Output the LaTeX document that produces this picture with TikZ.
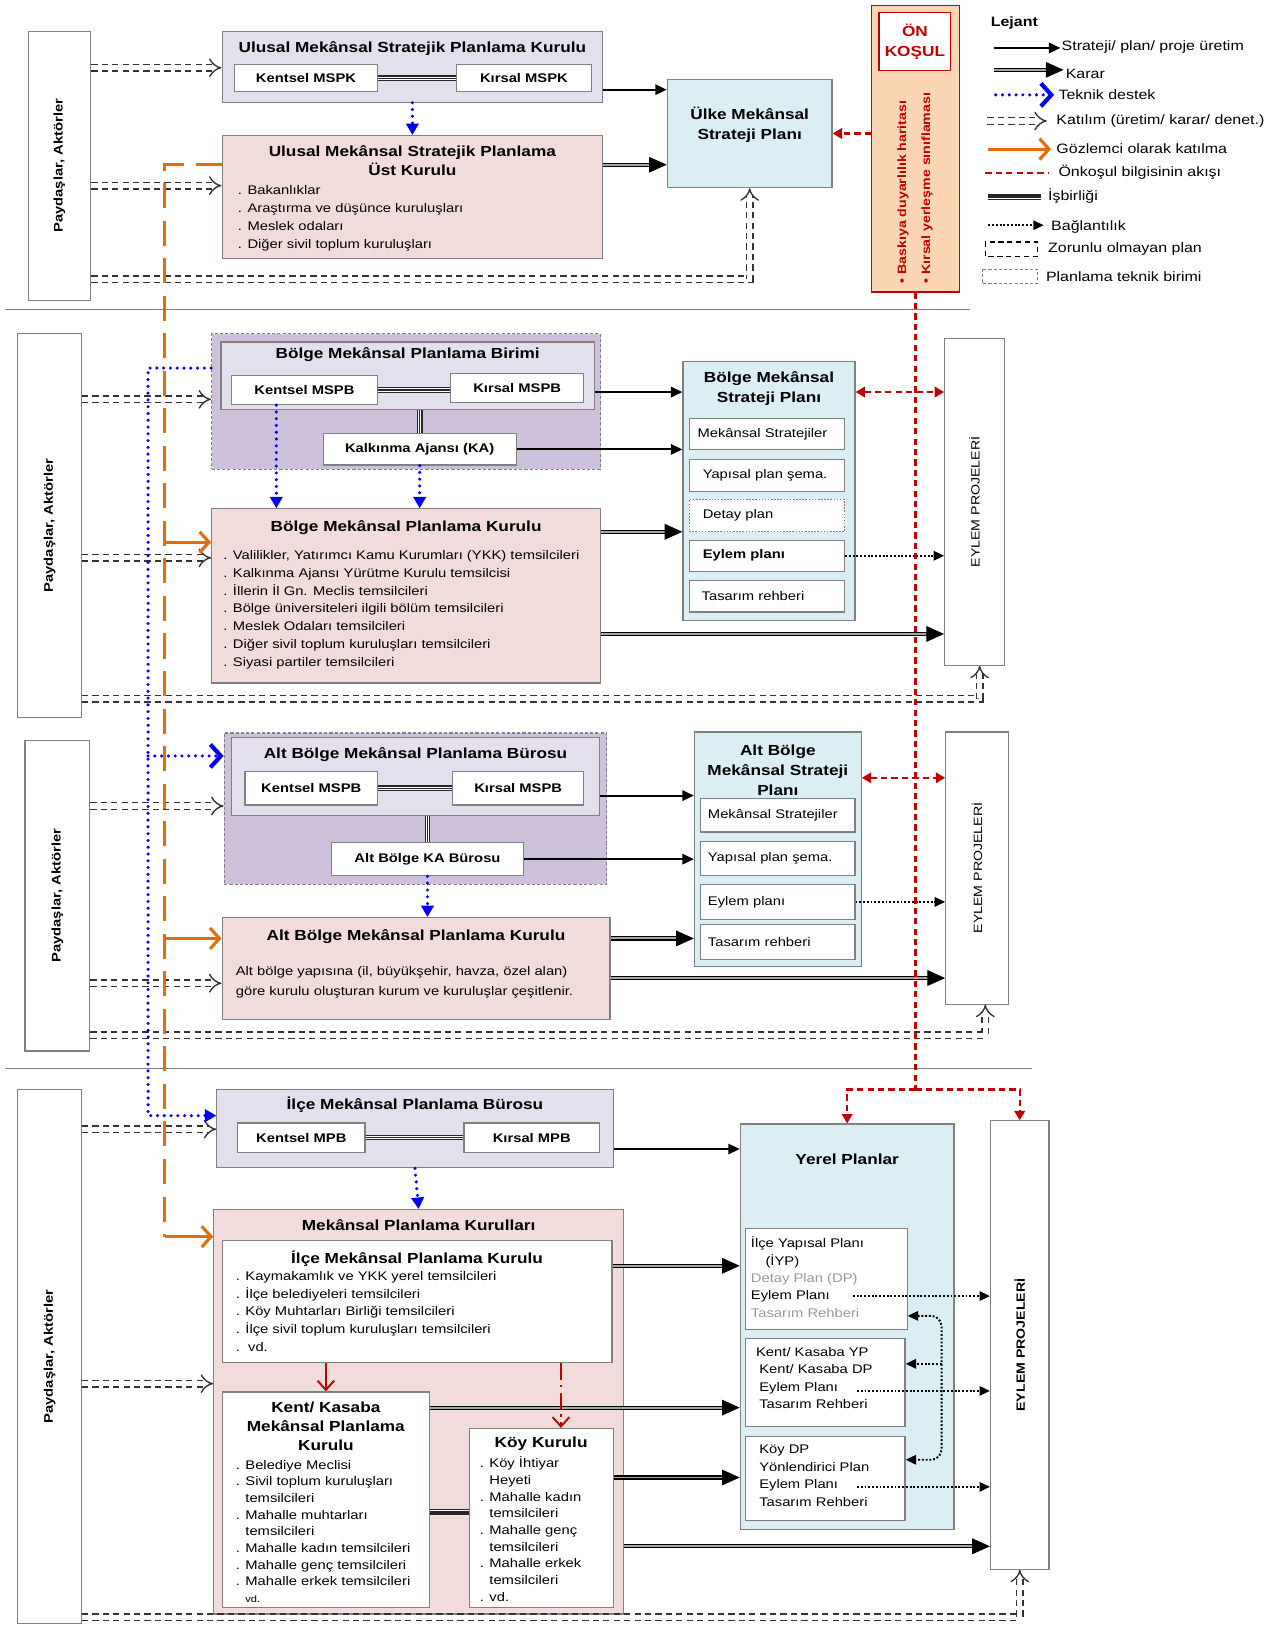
\documentclass[tikz,border=0pt]{standalone}
\usepackage{fontspec}
\setmainfont[FakeStretch=1.18]{Liberation Sans}
\usetikzlibrary{positioning, arrows.meta}

\definecolor{lavlight}{HTML}{E4DFEC}
\definecolor{lavdark}{HTML}{CCC0DA}
\definecolor{pinkfill}{HTML}{F2DCDB}
\definecolor{bluefill}{HTML}{DAEEF3}
\definecolor{peachfill}{HTML}{FCD5B4}
\definecolor{boxgray}{HTML}{808080}
\definecolor{condred}{HTML}{C00000}
\definecolor{obsorange}{HTML}{E46C0A}
\definecolor{techblue}{HTML}{0000F0}

\tikzset{
  sz/.style 2 args={minimum width=#1pt, minimum height=#2pt},
  basebox/.style={draw=boxgray, line width=1.1pt, inner sep=0pt},
  lavbox/.style={basebox, fill=lavlight},
  unitbox/.style={basebox, fill=lavdark, dash pattern=on 3pt off 2pt},
  pinkbox/.style={basebox, fill=pinkfill},
  bluebox/.style={basebox, fill=bluefill},
  whitebox/.style={basebox, fill=white},
  planbox/.style={whitebox, align=left, font=\fontsize{12}{14}\selectfont},
  titletext/.style={font=\fontsize{14}{19}\selectfont\bfseries, align=center, inner sep=0pt},
  labeltext/.style={font=\fontsize{12}{14}\selectfont\bfseries},
  listtext/.style={font=\fontsize{12}{17}\selectfont, align=left, inner sep=0pt, anchor=north west},
  sidetext/.style={font=\fontsize{12}{14}\selectfont\bfseries, rotate=90},
  eylemtext/.style={font=\fontsize{11.5}{14}\selectfont, rotate=90},
  condtext/.style={font=\fontsize{11.5}{13}\selectfont\bfseries, text=condred, rotate=90, anchor=west, inner sep=0pt},
  legtext/.style={font=\fontsize{13}{15}\selectfont, anchor=west, inner sep=0pt},
  produce/.style={draw=black, line width=1.8pt, -{Triangle[length=11pt, width=10pt]}},
  decision/.style={draw=black, double=gray!70, double distance=1.8pt, line width=1.1pt, -{Triangle[length=17pt, width=15pt]}},
  support/.style={draw=techblue, line width=3.3pt, dash pattern=on 0pt off 6.5pt, line cap=round, -{Triangle[length=11pt, width=12pt]}},
  supportbig/.style={support, -{Straight Barb[length=10pt, width=22pt, line width=4pt]}},
  participate/.style={draw=black!80, line width=1.3pt, double, double distance=5pt, dash pattern=on 6pt off 4pt, -{Implies}},
  observer/.style={draw=obsorange, line width=3pt, dash pattern=on 24pt off 12pt},
  observerin/.style={draw=obsorange, line width=3pt, -{Straight Barb[length=9pt, width=20pt]}},
  precond/.style={draw=condred, line width=2.2pt, dash pattern=on 6pt off 4pt},
  redtip/.style={-{Triangle[length=9pt, width=10pt]}},
  redarrow/.style={draw=condred, line width=1.8pt, -{Straight Barb[length=9pt, width=16pt]}},
  coop/.style={draw=black!85, line width=5.6pt, postaction={draw=white, line width=3pt}, postaction={draw=black!85, line width=1.2pt}},
  link/.style={draw=black, line width=1.9pt, dash pattern=on 1.8pt off 1.8pt, -{Triangle[length=10pt, width=9pt]}},
}

\begin{document}
\begin{tikzpicture}[x=1pt, y=-1pt]
\fill[white] (0,0) rectangle (1220,1558.5);
\useasboundingbox (0,0) rectangle (1220,1558.5);

% ulusal duzey
\node[whitebox, sz={60}{258}] (pay1) at (57,159) {};
\node[sidetext] (pay1t) at (pay1.center) {Paydaşlar, Aktörler};
\node[lavbox, sz={365}{68}] (umspk) at (395.5,64) {};
\node[titletext] (umspkt) at (395.5,47) {Ulusal Mekânsal Stratejik Planlama Kurulu};
\node[whitebox, sz={137}{26}, labeltext] (kmspk1) at (293.5,75) {Kentsel MSPK};
\node[whitebox, sz={129}{26}, labeltext] (rmspk1) at (502.5,75) {Kırsal MSPK};
\node[pinkbox, sz={365}{118}] (ust) at (395.5,189) {};
\node[titletext] (ustt) at (395.5,154) {Ulusal Mekânsal Stratejik Planlama\\Üst Kurulu};
\node[listtext] (ustl) at (228,178) {. Bakanlıklar\\. Araştırma ve düşünce kuruluşları\\. Meslek odaları\\. Diğer sivil toplum kuruluşları};
\node[bluebox, sz={158}{104}] (ulke) at (719,128) {};
\node[titletext] (ulket) at (719,120) {Ülke Mekânsal\\Strateji Planı};
\node[basebox, draw=condred, fill=peachfill, sz={84}{275}] (onkosul) at (878,142.5) {};
\node[basebox, draw=condred, fill=white, sz={69}{56}, titletext, text=condred] (onkosult) at (877.5,40) {ÖN\\KOŞUL};
\node[condtext] (ok1) at (866,272) {• Baskıya duyarlılık haritası};
\node[condtext] (ok2) at (889,272) {• Kırsal yerleşme sınıflaması};

% bolge duzeyi
\node[whitebox, sz={61}{368}] (pay2) at (47.5,504) {};
\node[sidetext] (pay2t) at (pay2.center) {Paydaşlar, Aktörler};
\node[unitbox, sz={373}{130}] (unit2) at (389.5,385) {};
\node[lavbox, sz={358}{65}] (bmpb) at (391,360.5) {};
\node[titletext] (bmpbt) at (391,340) {Bölge Mekânsal Planlama Birimi};
\node[whitebox, sz={140}{28}, labeltext] (kmspb2) at (292,374) {Kentsel MSPB};
\node[whitebox, sz={128}{28}, labeltext] (rmspb2) at (496,372) {Kırsal MSPB};
\node[whitebox, sz={185}{30}, labeltext] (ka2) at (402.5,431) {Kalkınma Ajansı (KA)};
\node[pinkbox, sz={373}{167}] (bkurul) at (389.5,571.5) {};
\node[titletext] (bkurult) at (389.5,506) {Bölge Mekânsal Planlama Kurulu};
\node[listtext] (bkurull) at (214,528) {. Valilikler, Yatırımcı Kamu Kurumları (YKK) temsilcileri\\. Kalkınma Ajansı Yürütme Kurulu temsilcisi\\. İllerin İl Gn. Meclis temsilcileri\\. Bölge üniversiteleri ilgili bölüm temsilcileri\\. Meslek Odaları temsilcileri\\. Diğer sivil toplum kuruluşları temsilcileri\\. Siyasi partiler temsilcileri};
\node[bluebox, sz={165}{248}] (bsp) at (737.5,471) {};
\node[titletext] (bspt) at (737.5,373) {Bölge Mekânsal\\Strateji Planı};
\node[planbox, sz={149}{30}, text width=133pt] (bsp1) at (735.5,416) {Mekânsal Stratejiler};
\node[planbox, sz={149}{30}, text width=133pt] (bsp2) at (735.5,456) {\hspace*{5pt}Yapısal plan şema.};
\node[planbox, sz={149}{31}, text width=133pt, dash pattern=on 1.5pt off 1.5pt, line width=0.8pt] (bsp3) at (735.5,494.5) {\hspace*{5pt}Detay plan};
\node[planbox, sz={149}{30}, text width=133pt, font=\fontsize{12}{14}\selectfont\bfseries] (bsp4) at (735.5,533) {\hspace*{5pt}Eylem planı};
\node[planbox, sz={149}{30}, text width=133pt] (bsp5) at (735.5,572) {\hspace*{4pt}Tasarım rehberi};
\node[whitebox, sz={57}{313}] (eylem1) at (934.5,481.5) {};
\node[eylemtext] (eylem1t) at (eylem1.center) {EYLEM PROJELERİ};

% alt bolge duzeyi
\node[whitebox, sz={62}{298}] (pay3) at (55,859) {};
\node[sidetext] (pay3t) at (pay3.center) {Paydaşlar, Aktörler};
\node[unitbox, sz={367}{145}] (unit3) at (398.5,775.5) {};
\node[lavbox, sz={353}{75}] (abmpb) at (398.5,744.5) {};
\node[titletext] (abmpbt) at (398.5,724) {Alt Bölge Mekânsal Planlama Bürosu};
\node[whitebox, sz={127}{32}, labeltext] (kmspb3) at (298.5,756) {Kentsel MSPB};
\node[whitebox, sz={126}{32}, labeltext] (rmspb3) at (497,756) {Kırsal MSPB};
\node[whitebox, sz={184}{32}, labeltext] (ka3) at (410,824) {Alt Bölge KA Bürosu};
\node[pinkbox, sz={372}{98}] (abkurul) at (399,929) {};
\node[titletext] (abkurult) at (399,898) {Alt Bölge Mekânsal Planlama Kurulu};
\node[listtext, font=\fontsize{12}{19}\selectfont] (abkurull) at (226,927) {Alt bölge yapısına (il, büyükşehir, havza, özel alan)\\göre kurulu oluşturan kurum ve kuruluşlar çeşitlenir.};
\node[bluebox, sz={160}{225}] (absp) at (746,814.5) {};
\node[titletext] (abspt) at (746,739) {Alt Bölge\\Mekânsal Strateji\\Planı};
\node[planbox, sz={148}{32}, text width=134pt] (absp1) at (746,782) {Mekânsal Stratejiler};
\node[planbox, sz={148}{33}, text width=134pt] (absp2) at (746,823.5) {Yapısal plan şema.};
\node[planbox, sz={148}{34}, text width=134pt] (absp3) at (746,865) {Eylem planı};
\node[planbox, sz={148}{33}, text width=134pt] (absp4) at (746,903.5) {Tasarım rehberi};
\node[whitebox, sz={60}{261}] (eylem2) at (937,832.5) {};
\node[eylemtext] (eylem2t) at (eylem2.center) {EYLEM PROJELERİ};

% ilce duzeyi
\node[whitebox, sz={61}{512}] (pay4) at (47.5,1301) {};
\node[sidetext] (pay4t) at (pay4.center) {Paydaşlar, Aktörler};
\node[lavbox, sz={380}{75}] (ilceb) at (398,1082.5) {};
\node[titletext] (ilcebt) at (398,1060) {İlçe Mekânsal Planlama Bürosu};
\node[whitebox, sz={122}{28}, labeltext] (kmpb4) at (289,1091) {Kentsel MPB};
\node[whitebox, sz={130}{28}, labeltext] (rmpb4) at (510,1091) {Kırsal MPB};
\node[pinkbox, sz={393}{388}] (mpk) at (401.5,1354) {};
\node[titletext] (mpkt) at (401.5,1175) {Mekânsal Planlama Kurulları};
\node[whitebox, sz={374}{117}] (ilcek) at (400,1248.5) {};
\node[titletext] (ilcekt) at (400,1207) {İlçe Mekânsal Planlama Kurulu};
\node[listtext] (ilcekl) at (226,1219) {. Kaymakamlık ve YKK yerel temsilcileri\\. İlçe belediyeleri temsilcileri\\. Köy Muhtarları Birliği temsilcileri\\. İlçe sivil toplum kuruluşları temsilcileri\\.\ \ vd.};
\node[whitebox, sz={199}{207}] (kentk) at (312.5,1438.5) {};
\node[titletext, font=\fontsize{14}{18.5}\selectfont\bfseries] (kentkt) at (312.5,1368) {Kent/ Kasaba\\Mekânsal Planlama\\Kurulu};
\node[listtext, font=\fontsize{12}{16}\selectfont] (kentkl) at (226,1400) {. Belediye Meclisi\\. Sivil toplum kuruluşları\\\phantom{. }temsilcileri\\. Mahalle muhtarları\\\phantom{. }temsilcileri\\. Mahalle kadın temsilcileri\\. Mahalle genç temsilcileri\\. Mahalle erkek temsilcileri\\\phantom{. }{\fontsize{9}{10}\selectfont vd.}};
\node[whitebox, sz={138}{172}] (koyk) at (519,1456) {};
\node[titletext] (koykt) at (519,1385) {Köy Kurulu};
\node[listtext, font=\fontsize{12}{16}\selectfont] (koykl) at (460,1397) {. Köy İhtiyar\\\phantom{. }Heyeti\\. Mahalle kadın\\\phantom{. }temsilcileri\\. Mahalle genç\\\phantom{. }temsilcileri\\. Mahalle erkek\\\phantom{. }temsilcileri\\. vd.};
\node[bluebox, sz={205}{389}] (yerel) at (812.5,1272.5) {};
\node[titletext] (yerelt) at (812.5,1112) {Yerel Planlar};
\node[whitebox, sz={155}{97}] (yp1) at (792.5,1226.5) {};
\node[listtext, font=\fontsize{12}{16.7}\selectfont] (yp1l) at (720,1186) {İlçe Yapısal Planı\\\hspace*{14pt}(İYP)\\\textcolor{black!40}{Detay Plan (DP)}\\Eylem Planı\\\textcolor{black!40}{Tasarım Rehberi}};
\node[whitebox, sz={153}{84}] (yp2) at (791.5,1326) {};
\node[listtext, font=\fontsize{12}{16.7}\selectfont] (yp2l) at (725,1292) {Kent/ Kasaba YP\\\hspace*{3pt}Kent/ Kasaba DP\\\hspace*{3pt}Eylem Planı\\\hspace*{3pt}Tasarım Rehberi};
\node[whitebox, sz={153}{80}] (yp3) at (791.5,1418) {};
\node[listtext, font=\fontsize{12}{16.7}\selectfont] (yp3l) at (728,1386) {Köy DP\\Yönlendirici Plan\\Eylem Planı\\Tasarım Rehberi};
\node[whitebox, sz={56}{430}] (eylem3) at (978,1290) {};
\node[eylemtext, font=\fontsize{11.5}{14}\selectfont\bfseries] (eylem3t) at (eylem3.center) {EYLEM PROJELERİ};

% ayirici cizgiler
\draw[boxgray, double, double distance=1.5pt, line width=0.8pt] (5,298) -- (930,298);
\draw[boxgray, line width=1.2pt] (5,1025) -- (990,1025);

% katilim
\draw[participate] (pay1.east |- 0,65) -- (umspk.west |- 0,65);
\draw[participate] (pay1.east |- 0,178) -- (ust.west |- 0,178);
\draw[participate] (pay1.east |- 0,268) -| (ulke.south);
\draw[participate] (pay2.east |- 0,383) -- (unit2.west |- 0,383);
\draw[participate] (pay2.east |- 0,535) -- (bkurul.west |- 0,535);
\draw[participate] (pay2.east |- 0,670) -| ([xshift=5pt]eylem1.south);
\draw[participate] (pay3.east |- 0,773) -- (unit3.west |- 0,773);
\draw[participate] (pay3.east |- 0,943) -- (abkurul.west |- 0,943);
\draw[participate] (pay3.east |- 0,993) -| ([xshift=8pt]eylem2.south);
\draw[participate] (pay4.east |- 0,1083) -- (ilceb.west |- 0,1083);
\draw[participate] (pay4.east |- 0,1327) -- (mpk.west |- 0,1327);
\draw[participate] (pay4.east |- 0,1551) -| (eylem3.south);

% isbirligi
\draw[coop] (kmspk1) -- (rmspk1);
\draw[coop] (kmspb2.east) -- (rmspb2.west |- kmspb2.east);
\draw[coop] (ka2.north |- bmpb.south) -- (ka2.north);
\draw[coop] (kmspb3) -- (rmspb3);
\draw[coop] (ka3.north |- abmpb.south) -- (ka3.north);
\draw[coop] (kmpb4) -- (rmpb4);
\draw[coop] (kentk.east |- 0,1450) -- (koyk.west |- 0,1450);

% uretim ve karar
\draw[produce] (umspk.east |- 0,86) -- (ulke.west |- 0,86);
\draw[decision] (ust.east |- 0,158) -- (ulke.west |- 0,158);
\draw[produce] (bmpb.east |- 0,376) -- (bsp.west |- 0,376);
\draw[produce] (ka2.east) -- (bsp.west |- ka2.east);
\draw[decision] (bkurul.east |- 0,510) -- (bsp.west |- 0,510);
\draw[decision] (bkurul.east |- 0,608) -- (eylem1.west |- 0,608);
\draw[produce] (abmpb.east |- 0,763) -- (absp.west |- 0,763);
\draw[produce] (ka3.east) -- (absp.west |- ka3.east);
\draw[decision] (abkurul.east |- 0,900) -- (absp.west |- 0,900);
\draw[decision] (abkurul.east |- 0,938) -- (eylem2.west |- 0,938);
\draw[produce] (ilceb.east |- 0,1102) -- (yerel.west |- 0,1102);
\draw[decision] (ilcek.east |- 0,1214) -- (yerel.west |- 0,1214);
\draw[decision] (kentk.east |- 0,1350) -- (yerel.west |- 0,1350);
\draw[decision] (koyk.east |- 0,1417) -- (yerel.west |- 0,1417);
\draw[decision] (mpk.east |- 0,1483) -- (eylem3.west |- 0,1483);

% baglantilik
\draw[link] (bsp4.east) -- (eylem1.west |- bsp4.east);
\draw[link] (absp3.east) -- (eylem2.west |- absp3.east);
\coordinate (ep1) at (818,1243);
\coordinate (ep2) at (822,1334);
\coordinate (ep3) at (822,1426);
\draw[link] (ep1) -- (eylem3.west |- ep1);
\draw[link] (ep2) -- (eylem3.west |- ep2);
\draw[link] (ep3) -- (eylem3.west |- ep3);
\coordinate (brk) at (903,1308);
\draw[link, {Triangle[length=10pt, width=9pt]}-{Triangle[length=10pt, width=9pt]}, rounded corners=10pt] (yp1.east |- 0,1262) -| (brk) |- (yp3.east |- 0,1400);
\draw[link] (brk) -- (yp2.east |- brk);

% kurullar arasi
\draw[redarrow] (kentk.north |- ilcek.south) -- (kentk.north);
\coordinate (kk) at ([xshift=19pt]koyk.north);
\draw[redarrow, dash pattern=on 16pt off 5pt on 2pt off 5pt] (kk |- ilcek.south) -- (kk);

% teknik destek
\draw[support] (umspk.south) -- (ust.north);
\coordinate (s2a) at ([xshift=-27pt]kmspb2.south);
\draw[support] (s2a) -- (s2a |- bkurul.north);
\draw[support] (ka2.south) -- (ka2.south |- bkurul.north);
\draw[support] (ka3.south) -- (ka3.south |- abkurul.north);
\draw[support] (ilceb.south) -- (mpk.north);
\coordinate (btop) at (142,353);
\coordinate (bmid) at (142,725);
\coordinate (bbot) at (142,1070);
\draw[support] (unit2.west |- btop) -- (btop) -- (bbot) -- (ilceb.west |- bbot);
\draw[supportbig] (bmid) -- (unit3.west |- bmid);

% gozlemci
\coordinate (otop) at (158,158);
\coordinate (o2) at (158,520);
\coordinate (o3) at (158,900);
\coordinate (obot) at (158,1186);
\draw[observer] (ust.west |- otop) -- (otop) -- (obot);
\draw[observerin] (obot) -- (mpk.west |- obot);
\draw[observerin] (o2) -- (bkurul.west |- o2);
\draw[observerin] (o3) -- (abkurul.west |- o3);

% onkosul
\draw[precond, redtip] (onkosul.west |- 0,128) -- (ulke.east |- 0,128);
\coordinate (rj) at (onkosul.south |- 0,1045);
\draw[precond] (onkosul.south) -- (rj);
\draw[precond, redtip] (rj) -| (yerel.north);
\draw[precond, redtip] (rj) -| (eylem3.north);
\draw[precond, {Triangle[length=9pt, width=10pt]}-{Triangle[length=9pt, width=10pt]}] (bsp.east |- 0,376) -- (eylem1.west |- 0,376);
\draw[precond, {Triangle[length=9pt, width=10pt]}-{Triangle[length=9pt, width=10pt]}] (absp.east |- 0,746) -- (eylem2.west |- 0,746);

% lejant
\node[legtext, font=\fontsize{13}{15}\selectfont\bfseries] (lejant) at (950,22) {Lejant};
\coordinate (lg1a) at (953,46); \coordinate (lg1b) at (1017,46);
\draw[produce] (lg1a) -- (lg1b);
\node[legtext] (lg1) at (1018,45) {Strateji/ plan/ proje üretim};
\coordinate (lg2a) at (953,67); \coordinate (lg2b) at (1020,67);
\draw[decision] (lg2a) -- (lg2b);
\node[legtext] (lg2) at (1022,71) {Karar};
\coordinate (lg3a) at (955,91); \coordinate (lg3b) at (1011,91);
\draw[supportbig] (lg3a) -- (lg3b);
\node[legtext] (lg3) at (1015,91) {Teknik destek};
\coordinate (lg4a) at (947,116); \coordinate (lg4b) at (1004,116);
\draw[participate] (lg4a) -- (lg4b);
\node[legtext] (lg4) at (1013,116) {Katılım (üretim/ karar/ denet.)};
\coordinate (lg5a) at (948,143); \coordinate (lg5b) at (1008,143);
\draw[observerin] (lg5a) -- (lg5b);
\node[legtext] (lg5) at (1013,143) {Gözlemci olarak katılma};
\coordinate (lg6a) at (945,166); \coordinate (lg6b) at (1006,166);
\draw[precond] (lg6a) -- (lg6b);
\node[legtext] (lg6) at (1015,165) {Önkoşul bilgisinin akışı};
\coordinate (lg7a) at (948,189); \coordinate (lg7b) at (998,189);
\draw[coop] (lg7a) -- (lg7b);
\node[legtext] (lg7) at (1005,188) {İşbirliği};
\coordinate (lg8a) at (948,216); \coordinate (lg8b) at (1001,216);
\draw[link] (lg8a) -- (lg8b);
\node[legtext] (lg8) at (1008,218) {Bağlantılık};
\draw[black, line width=1.3pt, dash pattern=on 5pt off 3.5pt] (945,232) rectangle (995,246);
\node[legtext] (lg9) at (1005,239) {Zorunlu olmayan plan};
\draw[boxgray, line width=0.8pt, dash pattern=on 3pt off 2pt] (942,258) rectangle (995,272);
\node[legtext] (lg10) at (1003,265) {Planlama teknik birimi};
\end{tikzpicture}
\end{document}
